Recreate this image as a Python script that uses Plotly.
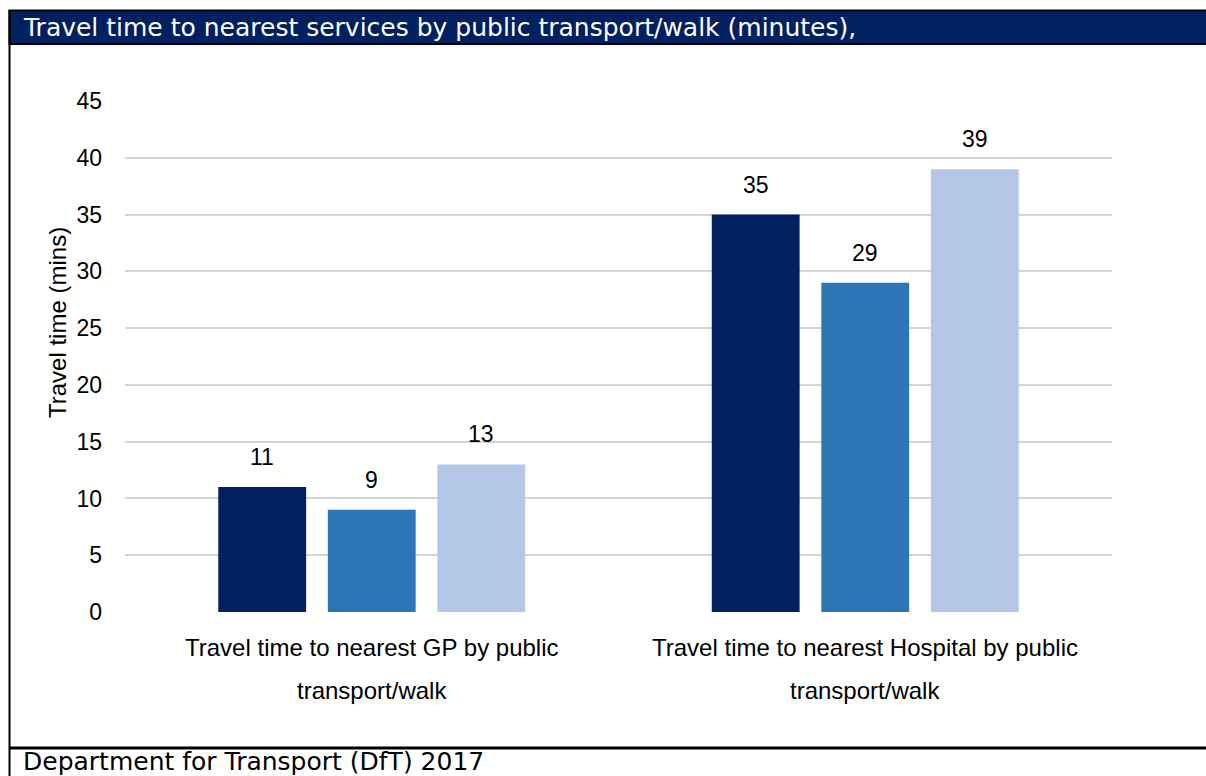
import plotly.graph_objects as go

# Data
categories = [
    "Travel time to nearest GP by public<br>transport/walk",
    "Travel time to nearest Hospital by public<br>transport/walk",
]
series_a = [11, 35]
series_b = [9, 29]
series_c = [13, 39]
series_colors = ["#002060", "#2E75B6", "#B4C7E7"]
y_ticks = [0, 5, 10, 15, 20, 25, 30, 35, 40, 45]

title_text = "Travel time to nearest services by public transport/walk (minutes),"
source_text = "Department for Transport (DfT) 2017"
y_title = "Travel time (mins)"

W, H = 1206, 776
LABEL_FONT = "Liberation Sans, Arial, sans-serif"
HEAD_FONT = "DejaVu Sans, Lato, sans-serif"


def px_x(px):
    return px / W


def px_y(py):
    return (H - py) / H


group_pos = list(range(len(categories)))
offsets = [-0.222, 0.0, 0.222]
bar_width = 0.178

fig = go.Figure()
annotations = []
for vals, off, col in zip([series_a, series_b, series_c], offsets, series_colors):
    xs = [g + off for g in group_pos]
    fig.add_trace(go.Bar(x=xs, y=vals, width=bar_width,
                         marker=dict(color=col, line=dict(width=0)),
                         hoverinfo="y", showlegend=False))
    for x, v in zip(xs, vals):
        annotations.append(dict(x=x, y=v, xref="x", yref="y", text=str(v),
                                showarrow=False, yanchor="middle", yshift=30,
                                font=dict(family=LABEL_FONT, size=23, color="#000000")))

# Two-line category labels below the axis
for g, cat in zip(group_pos, categories):
    lines = cat.split("<br>")
    for line, py in zip(lines, [647, 690]):
        annotations.append(dict(x=g, y=px_y(py), xref="x", yref="paper", text=line,
                                showarrow=False, xanchor="center", yanchor="middle",
                                font=dict(family=LABEL_FONT, size=24, color="#000000")))

# Y axis title
annotations.append(dict(x=px_x(57), y=px_y(323), xref="paper", yref="paper",
                        text=y_title, textangle=-90, showarrow=False,
                        xanchor="center", yanchor="middle",
                        font=dict(family=LABEL_FONT, size=24, color="#000000")))

# Header and source text
annotations.append(dict(x=px_x(21), y=px_y(28), xref="paper", yref="paper",
                        text=title_text, showarrow=False, xanchor="left", yanchor="middle",
                        font=dict(family=HEAD_FONT, size=25, color="#FFFFFF")))
annotations.append(dict(x=px_x(21), y=px_y(761), xref="paper", yref="paper",
                        text=source_text, showarrow=False, xanchor="left", yanchor="middle",
                        font=dict(family=HEAD_FONT, size=25, color="#000000")))

shapes = [
    # header band
    dict(type="rect", xref="paper", yref="paper",
         x0=px_x(9.5), x1=1.02, y0=px_y(44), y1=px_y(10.5),
         fillcolor="#002060", line=dict(color="#000000", width=2), layer="below"),
    # left frame edge
    dict(type="line", xref="paper", yref="paper",
         x0=px_x(9.5), x1=px_x(9.5), y0=px_y(10), y1=-0.02,
         line=dict(color="#000000", width=2)),
    # divider above the source line
    dict(type="line", xref="paper", yref="paper",
         x0=px_x(9), x1=1.02, y0=px_y(748), y1=px_y(748),
         line=dict(color="#000000", width=3)),
]

fig.update_layout(
    width=W, height=H,
    margin=dict(l=0, r=0, t=0, b=0, autoexpand=False),
    paper_bgcolor="#FFFFFF", plot_bgcolor="#FFFFFF",
    barmode="overlay",
    annotations=annotations,
    shapes=shapes,
    xaxis=dict(domain=[px_x(125), px_x(1112)], range=[-0.5, 1.5],
               showticklabels=False, showgrid=False, zeroline=False,
               showline=False, ticks="", fixedrange=True),
    yaxis=dict(domain=[px_y(612), px_y(101)], range=[0, 45],
               tickvals=y_ticks, ticks="", ticklabelstandoff=22,
               showgrid=True, gridcolor="#D4D4D4", gridwidth=1.5,
               zeroline=False, showline=False,
               tickfont=dict(family=LABEL_FONT, size=23, color="#000000"),
               fixedrange=True),
)

fig.write_html("out.html")
